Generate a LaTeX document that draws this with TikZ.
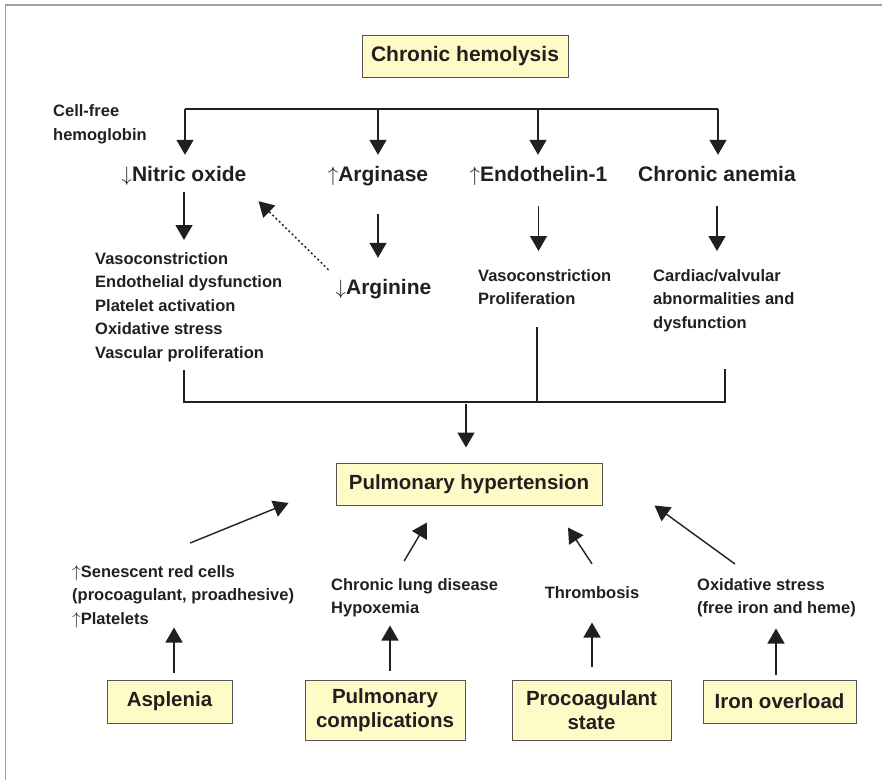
\documentclass[tikz,border=0pt]{standalone}
\usepackage{fontspec}
\setmainfont{Liberation Sans}
\usepackage{xcolor}
\definecolor{ink}{RGB}{35,31,32}
\definecolor{paleyellow}{RGB}{255,251,199}
\definecolor{boxline}{RGB}{85,85,85}
\definecolor{framegray}{RGB}{160,160,160}
\usepackage{tikz}
\usetikzlibrary{arrows.meta}
\newcommand{\fntBig}{\fontsize{21}{24}\selectfont\bfseries}
\newcommand{\fntBox}{\fontsize{20.5}{23.5}\selectfont\bfseries}
\newcommand{\fntSmall}{\fontsize{16.5}{23.5}\selectfont\bfseries}

\begin{document}
\begin{tikzpicture}[x=1pt,y=-1pt,
  ybox/.style={draw=boxline,line width=1pt,fill=paleyellow,text=ink,font=\fntBox,align=center,inner sep=0pt},
  factor/.style={font=\fntBig,text=ink,anchor=base,inner sep=0pt,text height=15.5pt,text depth=4pt},
  effect/.style={font=\fntSmall,text=ink,align=left,anchor=north west,inner sep=0pt},
  link/.style={draw=ink,line width=1.4pt},
  arr/.style={link,-{Triangle[length=15pt,width=17pt]}},
  dotarr/.style={arr,dash pattern=on 2pt off 2.5pt}]
\useasboundingbox (0,0) rectangle (882,780);
\draw[framegray,line width=1.3pt] (5.5,780) -- (5.5,5) -- (882,5);

% boxes
\node[ybox,font=\fntBig,minimum width=206pt,minimum height=42pt] (hemolysis) at (465,56) {Chronic hemolysis};
\node[ybox,minimum width=266pt,minimum height=42pt] (pulmHT) at (469,484) {Pulmonary hypertension};
\node[ybox,minimum width=125pt,minimum height=43pt] (asplenia) at (169.5,701.5) {Asplenia};
\node[ybox,minimum width=160pt,minimum height=60pt] (pulmComp) at (385,710) {Pulmonary\\complications};
\node[ybox,minimum width=159pt,minimum height=60pt] (procoag) at (591.5,710) {Procoagulant\\state};
\node[ybox,minimum width=153pt,minimum height=43pt] (ironOver) at (779.5,701.5) {Iron overload};

% mediators
\node[factor] (nitricOxide) at (184,181.5) {$\downarrow$Nitric oxide};
\node[factor] (arginase) at (378,181.5) {$\uparrow$Arginase};
\node[factor] (endothelin) at (538.5,181.5) {$\uparrow$Endothelin-1};
\node[factor] (anemia) at (717,181.5) {Chronic anemia};
\node[factor] (arginine) at (383.5,294.5) {$\downarrow$Arginine};

% effects
\node[effect] (cellFree) at (53,104.5) {Cell-free\\hemoglobin};
\node[effect] (noEffects) at (95,252) {Vasoconstriction\\Endothelial dysfunction\\Platelet activation\\Oxidative stress\\Vascular proliferation};
\node[effect] (etEffects) at (478,269) {Vasoconstriction\\Proliferation};
\node[effect] (anemiaEffects) at (653,269) {Cardiac/valvular\\abnormalities and\\dysfunction};
\node[effect] (senescent) at (72,565) {$\uparrow$Senescent red cells\\(procoagulant, proadhesive)\\$\uparrow$Platelets};
\node[effect] (lung) at (331,578) {Chronic lung disease\\Hypoxemia};
\node[effect,anchor=base] (thrombosis) at (592,598) {Thrombosis};
\node[effect] (oxStress) at (697,578) {Oxidative stress\\(free iron and heme)};

% top split
\coordinate (busNO) at (185,109);
\coordinate (busArg) at (378,109);
\coordinate (busET) at (538,109);
\coordinate (busAn) at (718,109);
\draw[link] (busNO) -- (busAn);
\draw[arr,shorten >=11pt] (busNO) -- (busNO |- nitricOxide.north);
\draw[arr,shorten >=11pt] (busArg) -- (busArg |- arginase.north);
\draw[arr,shorten >=11pt] (busET) -- (busET |- endothelin.north);
\draw[arr,shorten >=11pt] (busAn) -- (busAn |- anemia.north);

\draw[arr,shorten <=6pt,shorten >=12pt] (nitricOxide.south) -- (nitricOxide.south |- noEffects.north);
\draw[arr,shorten <=28.5pt,shorten >=21pt] (arginase.south) -- (arginase.south |- arginine.north);
\draw[arr,shorten <=20.5pt,shorten >=18pt] (endothelin.south) -- (endothelin.south |- etEffects.north);
\draw[arr,shorten <=20.5pt,shorten >=18pt] (anemia.south) -- (anemia.south |- anemiaEffects.north);
\draw[dotarr] ([xshift=-7pt,yshift=9pt]arginine.north west) -- ([xshift=12pt,yshift=-15.5pt]nitricOxide.south east);

% merge
\coordinate (mergeNO) at (184,402);
\coordinate (mergeET) at (537,402);
\coordinate (mergeAn) at (725,402);
\coordinate (mergeMid) at (466,402);
\draw[link,shorten <=8.5pt,shorten >=37.5pt] (mergeNO |- noEffects.south) -- (mergeNO) -- (mergeAn) -- (mergeAn |- anemiaEffects.south);
\draw[link,shorten <=22pt] (mergeET |- etEffects.south) -- (mergeET);
\draw[arr,shorten <=2pt,shorten >=15pt] (mergeMid) -- (mergeMid |- pulmHT.north);

% bottom causes
\draw[arr] ([xshift=4.5pt,yshift=7pt]asplenia.north) -- ([xshift=4.5pt,yshift=52pt]asplenia.north);
\draw[arr] ([xshift=5pt,yshift=9pt]pulmComp.north) -- ([xshift=5pt,yshift=54pt]pulmComp.north);
\draw[arr] ([xshift=0.5pt,yshift=13pt]procoag.north) -- ([xshift=0.5pt,yshift=57pt]procoag.north);
\draw[arr] ([xshift=-3.5pt,yshift=5pt]ironOver.north) -- ([xshift=-3.5pt,yshift=51pt]ironOver.north);

\draw[arr] ([xshift=7pt,yshift=22pt]senescent.north) -- ([xshift=-47pt,yshift=-19pt]pulmHT.west);
\draw[arr] ([xshift=-10.5pt,yshift=17pt]lung.north) -- ([xshift=-42pt,yshift=-17pt]pulmHT.south);
\draw[arr] ([yshift=22pt]thrombosis.north) -- ([xshift=99pt,yshift=-22pt]pulmHT.south);
\draw[arr] ([xshift=-41.5pt,yshift=14pt]oxStress.north) -- ([xshift=52pt]pulmHT.south east);
\end{tikzpicture}
\end{document}
